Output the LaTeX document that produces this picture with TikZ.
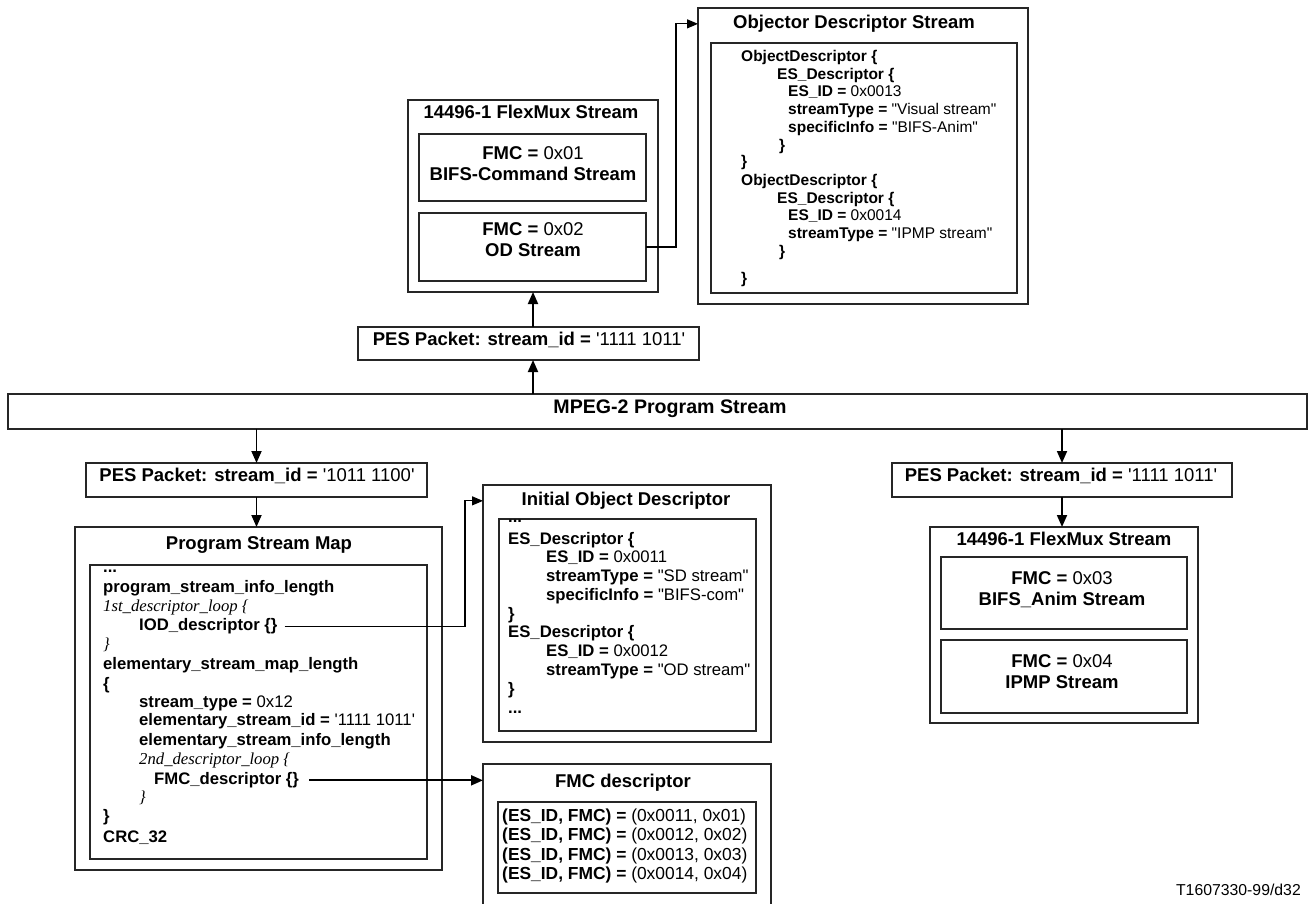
\documentclass[tikz,border=0pt]{standalone}
\usepackage{fontspec}
\setmainfont{Liberation Sans}[Ligatures=TeXOff]
\newfontfamily\tif{Liberation Serif}[Ligatures=TeXOff]
\usetikzlibrary{arrows.meta}
\newcommand\fs[1]{\fontsize{#1}{#1}\selectfont}
\newcommand\bx[5]{\node[box, minimum width={#4pt-#2pt}, minimum height={#5pt-#3pt}] (#1) at ({(#2+#4)/2},{(#3+#5)/2}) {};}
\begin{document}
\begin{tikzpicture}[x=1pt,y=-1pt,
  box/.style={draw=black!85, line width=1.3pt, inner sep=0pt, outer sep=0pt, rectangle},
  ttl/.style={font={\fs{18.5}\bfseries}, inner sep=0pt, anchor=mid},
  ctr/.style={font={\fs{18.5}}, inner sep=0pt, anchor=mid},
  lod/.style={font={\fs{15.5}}, inner sep=0pt, anchor=mid west},
  lmid/.style={font={\fs{16.7}}, inner sep=0pt, anchor=mid west},
  lfmc/.style={font={\fs{17.4}}, inner sep=0pt, anchor=mid west},
  arr/.style={line width=1.8pt, draw=black, -{Triangle[length=12pt,width=10pt]}},
  thinarr/.style={line width=1.2pt, draw=black, -{Triangle[length=11pt,width=9pt]}},
  fmcarr/.style={line width=2pt, draw=black, -{Triangle[length=12pt,width=10pt]}}]
\fill[white] (0,0) rectangle (1311,904);
\useasboundingbox (0,0) rectangle (1311,904);

% boxes
\bx{odout}{698}{8}{1028}{304}
\bx{odin}{711}{43}{1017}{293}
\bx{fmtop}{408}{100}{658}{292}
\bx{fmi1}{419}{134}{646}{201}
\bx{fmi2}{419}{213}{646}{281}
\bx{pestop}{358}{327}{699}{360}
\bx{mpeg}{8}{394}{1307}{429}
\bx{pesl}{86}{463}{427}{497}
\bx{pesr}{892}{463}{1232}{497}
\bx{psm}{75}{527}{442}{870}
\bx{psmin}{90}{565}{427}{859}
\bx{iod}{483}{485}{771}{742}
\bx{iodin}{499}{519}{756}{731}
\bx{fmcd}{483}{764}{771}{915}
\bx{fmcdin}{498}{802}{756}{893}
\bx{fmr}{930}{527}{1198}{723}
\bx{fmr1}{941}{557}{1187}{629}
\bx{fmr2}{941}{640}{1187}{713}

% titles and centred texts
\node[ttl] (odtitle) at (854,26) {Objector Descriptor Stream};
\node[ttl] (fmtitle) at (531,116) {14496-1 FlexMux Stream};
\node[ctr] (fmt1a) at (533,157) {\textbf{FMC =} 0x01};
\node[ttl] (fmt1b) at (533,178) {BIFS-Command Stream};
\node[ctr] (fmt2a) at (533,233) {\textbf{FMC =} 0x02};
\node[ttl] (fmt2b) at (533,254) {OD Stream};
\node[ctr] (pestopt) at (529,343) {\textbf{PES Packet: stream\_id =} '1111 1011'};
\node[ttl, font={\fs{19.6}\bfseries}] (mpegt) at (670,411) {MPEG-2 Program Stream};
\node[ctr] (peslt) at (257,479) {\textbf{PES Packet: stream\_id =} '1011 1100'};
\node[ctr] (pesrt) at (1061,479) {\textbf{PES Packet: stream\_id =} '1111 1011'};
\node[ttl] (psmtitle) at (259,547) {Program Stream Map};
\node[ttl] (iodtitle) at (626,503) {Initial Object Descriptor};
\node[ttl] (fmcdtitle) at (623,785) {FMC descriptor};
\node[ttl] (fmrtitle) at (1064,543) {14496-1 FlexMux Stream};
\node[ctr] (fmr1a) at (1062,582) {\textbf{FMC =} 0x03};
\node[ttl] (fmr1b) at (1062,603) {BIFS\_Anim Stream};
\node[ctr] (fmr2a) at (1062,665) {\textbf{FMC =} 0x04};
\node[ttl] (fmr2b) at (1062,686) {IPMP Stream};
\node[font={\fs{15.8}}, inner sep=0pt, anchor=mid east] (note) at (1301,893) {T1607330-99/d32};

% Object descriptor stream lines
\foreach \x/\y/\s [count=\i] in {
  741/59/{\textbf{ObjectDescriptor \{}},
  777/77/{\textbf{ES\_Descriptor \{}},
  788/94/{\textbf{ES\_ID =} 0x0013},
  788/112/{\textbf{streamType =} "Visual stream"},
  788/130/{\textbf{specificInfo =} "BIFS-Anim"},
  779/148/{\textbf{\}}},
  741/164/{\textbf{\}}},
  741/183/{\textbf{ObjectDescriptor \{}},
  777/201/{\textbf{ES\_Descriptor \{}},
  788/218/{\textbf{ES\_ID =} 0x0014},
  788/236/{\textbf{streamType =} "IPMP stream"},
  779/254/{\textbf{\}}},
  741/281/{\textbf{\}}}}
  \node[lod] (od\i) at (\x,\y) {\s};

% Program stream map lines
\foreach \x/\y/\s [count=\i] in {
  103/570/{\textbf{...}},
  103/590/{\textbf{program\_stream\_info\_length}},
  103/609/{\tif\itshape 1st\_descriptor\_loop \{},
  139/628/{\textbf{IOD\_descriptor \{\}}},
  103/647/{\tif\itshape \}},
  103/667/{\textbf{elementary\_stream\_map\_length}},
  103/687/{\textbf{\{}},
  139/705/{\textbf{stream\_type =} 0x12},
  139/723/{\textbf{elementary\_stream\_id =} '1111 1011'},
  139/743/{\textbf{elementary\_stream\_info\_length}},
  139/762/{\tif\itshape 2nd\_descriptor\_loop \{},
  154/782/{\textbf{FMC\_descriptor \{\}}},
  139/800/{\tif\itshape \}},
  103/819/{\textbf{\}}},
  103/840/{\textbf{CRC\_32}}}
  \node[lmid] (psm\i) at (\x,\y) {\s};

% Initial object descriptor lines
\foreach \x/\y/\s [count=\i] in {
  508/520/{\textbf{...}},
  508/542/{\textbf{ES\_Descriptor \{}},
  546/560/{\textbf{ES\_ID =} 0x0011},
  546/579/{\textbf{streamType =} "SD stream"},
  546/598/{\textbf{specificInfo =} "BIFS-com"},
  508/617/{\textbf{\}}},
  508/635/{\textbf{ES\_Descriptor \{}},
  546/654/{\textbf{ES\_ID =} 0x0012},
  546/673/{\textbf{streamType =} "OD stream"},
  508/692/{\textbf{\}}},
  508/711/{\textbf{...}}}
  \node[lmid] (iodl\i) at (\x,\y) {\s};

% FMC descriptor lines
\foreach \y/\s [count=\i] in {
  819/{\textbf{(ES\_ID, FMC) =} (0x0011, 0x01)},
  838/{\textbf{(ES\_ID, FMC) =} (0x0012, 0x02)},
  858/{\textbf{(ES\_ID, FMC) =} (0x0013, 0x03)},
  877/{\textbf{(ES\_ID, FMC) =} (0x0014, 0x04)}}
  \node[lfmc] (fmcl\i) at (502,\y) {\s};

% connectors
\draw[arr] (mpeg.north -| fmtop.south) -- (pestop.south -| fmtop.south);
\draw[arr] (pestop.north -| fmtop.south) -- (fmtop.south);
\draw[arr] (mpeg.south -| pesl.north) -- (pesl.north);
\draw[arr] (pesl.south) -- (pesl.south |- psm.north);
\draw[arr] (mpeg.south -| pesr.north) -- (pesr.north);
\draw[arr] (pesr.south) -- (pesr.south |- fmr.north);
\draw[thinarr] (fmi2.east) -- ++(30,0) |- (odtitle -| odout.west);
\coordinate (iodbend) at (465,600);
\draw[thinarr] ([xshift=7pt]psm4.east) -| (iodbend |- iodtitle) -- (iodtitle -| iod.west);
\draw[fmcarr] ([xshift=10pt]psm12.east) -- (psm12.east -| fmcd.west);
\end{tikzpicture}
\end{document}
